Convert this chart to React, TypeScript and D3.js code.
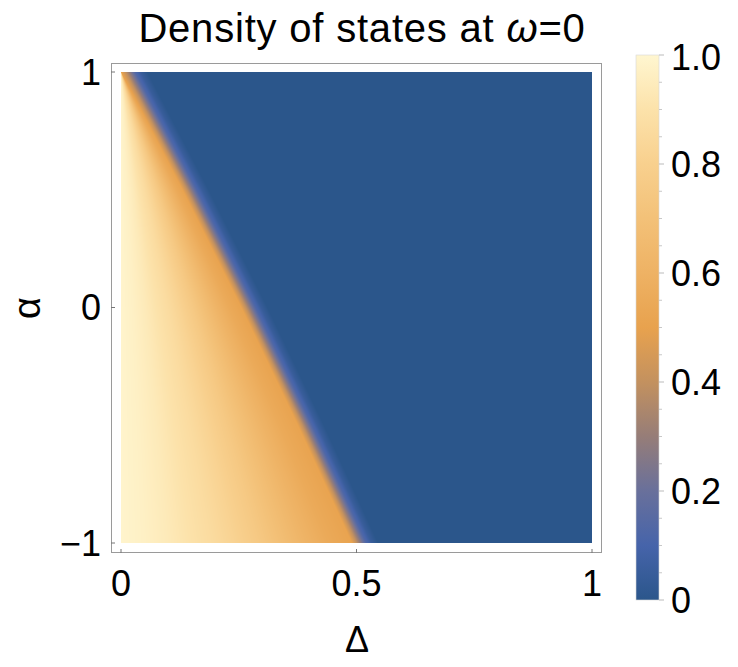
import { useEffect, useRef } from 'react';
import * as d3 from 'd3';

// axis ticks
const deltaTicks = [0, 0.5, 1];
const alphaTicks = [-1, 0, 1];
const barTicks = [0, 0.2, 0.4, 0.6, 0.8, 1.0];
const barMinorTicks = [0.05, 0.1, 0.15, 0.25, 0.3, 0.35, 0.45, 0.5, 0.55, 0.65, 0.7, 0.75, 0.85, 0.9, 0.95];

const edgeAlpha = [1, 0.5, 0, -0.5, -1];
const edgeDelta = [0, 0.13, 0.255, 0.375, 0.49];

// density inside the gapless region, against Δ/Δc
const insideR = [0, 0.1, 0.2, 0.3, 0.4, 0.5, 0.6, 0.7, 0.8, 0.9, 1.0];
const insideDos = [0.99, 0.97, 0.94, 0.9, 0.86, 0.81, 0.75, 0.68, 0.61, 0.55, 0.51];

// fall-off past the edge, against Δ - Δc
const tailOffset = [0, 0.01, 0.02, 0.03, 0.042, 0.056];
const tailDos = [0.51, 0.4, 0.26, 0.13, 0.05, 0];

// colour function
const colorStops = [0, 0.1, 0.2, 0.3, 0.4, 0.5, 0.6, 0.7, 0.8, 0.9, 1.0];
const colorHex = ['#2b568b', '#4664aa', '#69709b', '#967d78', '#c3915f', '#e8a24e', '#eeb264', '#f3c178', '#f8d08e', '#fce2aa', '#fff6d0'];

const W = 738;
const H = 667;
const FONT = '"Liberation Sans", Arial, sans-serif';

const App = () => {
  const imgRef = useRef<SVGImageElement>(null);

  const x = d3.scaleLinear().domain([0, 1]).range([121, 592]);
  const y = d3.scaleLinear().domain([-1, 1]).range([543, 72]);
  const cb = d3.scaleLinear().domain([0, 1]).range([600, 55]);

  const color = d3.scaleLinear<string>()
    .domain(colorStops)
    .range(colorHex)
    .interpolate(d3.interpolateRgb)
    .clamp(true);

  const edge = d3.scaleLinear().domain(edgeAlpha).range(edgeDelta).clamp(true);
  const inside = d3.scaleLinear().domain(insideR).range(insideDos).clamp(true);
  const tail = d3.scaleLinear().domain(tailOffset).range(tailDos).clamp(true);

  useEffect(() => {
    if (!imgRef.current) return;
    const x0 = x(0), x1 = x(1), y0 = y(1), y1 = y(-1);
    const w = Math.round(x1 - x0);
    const h = Math.round(y1 - y0);
    const canvas = document.createElement('canvas');
    canvas.width = w;
    canvas.height = h;
    const ctx = canvas.getContext('2d');
    if (!ctx) return;
    const img = ctx.createImageData(w, h);
    for (let j = 0; j < h; j++) {
      const a = y.invert(y0 + j + 0.5);
      const dc = edge(a);
      for (let i = 0; i < w; i++) {
        const d = x.invert(x0 + i + 0.5);
        let v;
        if (d <= dc) v = dc > 0 ? inside(d / dc) : 0.51;
        else v = tail(d - dc);
        const c = d3.rgb(color(v));
        const k = (j * w + i) * 4;
        img.data[k] = c.r;
        img.data[k + 1] = c.g;
        img.data[k + 2] = c.b;
        img.data[k + 3] = 255;
      }
    }
    ctx.putImageData(img, 0, 0);
    d3.select(imgRef.current).attr('href', canvas.toDataURL());
  }, []);

  return (
    <svg width={W} height={H} style={{ position: 'absolute', left: 0, top: 0, background: '#fff' }} fontFamily={FONT}>
      <defs>
        <linearGradient id="cbar" x1="0" y1="1" x2="0" y2="0">
          {colorStops.map((s, i) => (
            <stop key={i} offset={s} stopColor={colorHex[i]} />
          ))}
        </linearGradient>
      </defs>

      {/* title */}
      <text x={362} y={42} textAnchor="middle" fontSize={40} letterSpacing={0.8} fill="#000">
        Density of states at <tspan fontStyle="italic">ω</tspan>=0
      </text>

      {/* density image */}
      <image ref={imgRef} x={x(0)} y={y(1)} width={x(1) - x(0)} height={y(-1) - y(1)} preserveAspectRatio="none" />

      {/* frame */}
      <rect x={111.5} y={63.5} width={490} height={489} fill="none" stroke="#9a9a9a" strokeWidth={1} />

      {/* x ticks */}
      {deltaTicks.map(t => (
        <g key={'x' + t}>
          <line x1={x(t)} x2={x(t)} y1={553} y2={549} stroke="#777" />
          <text x={x(t)} y={596} textAnchor="middle" fontSize={36} fill="#000">{t}</text>
        </g>
      ))}
      <text x={357} y={652} textAnchor="middle" fontSize={36} fill="#000">Δ</text>

      {/* y ticks */}
      {alphaTicks.map(t => (
        <g key={'y' + t}>
          <line x1={111} x2={115} y1={y(t)} y2={y(t)} stroke="#777" />
          <text x={101} y={y(t) + 12.5} textAnchor="end" fontSize={36} fill="#000">{t < 0 ? '\u2212' + Math.abs(t) : t}</text>
        </g>
      ))}
      <text transform={`translate(40, 308) rotate(-90)`} textAnchor="middle" fontSize={38} fill="#000">α</text>

      {/* colour bar */}
      <rect x={636} y={cb(1)} width={23} height={cb(0) - cb(1)} fill="url(#cbar)" stroke="#d8d8d8" strokeWidth={0.6} />
      {barMinorTicks.map(t => (
        <line key={'m' + t} x1={659} x2={662} y1={cb(t)} y2={cb(t)} stroke="#c8c8c8" />
      ))}
      {barTicks.map(t => (
        <g key={'c' + t}>
          <line x1={659} x2={664} y1={cb(t)} y2={cb(t)} stroke="#bbb" />
          <text x={671} y={Math.max(cb(t), 57) + 12.5} fontSize={36} fill="#000">{t === 0 ? '0' : t.toFixed(1)}</text>
        </g>
      ))}
    </svg>
  );
};

export default App;
